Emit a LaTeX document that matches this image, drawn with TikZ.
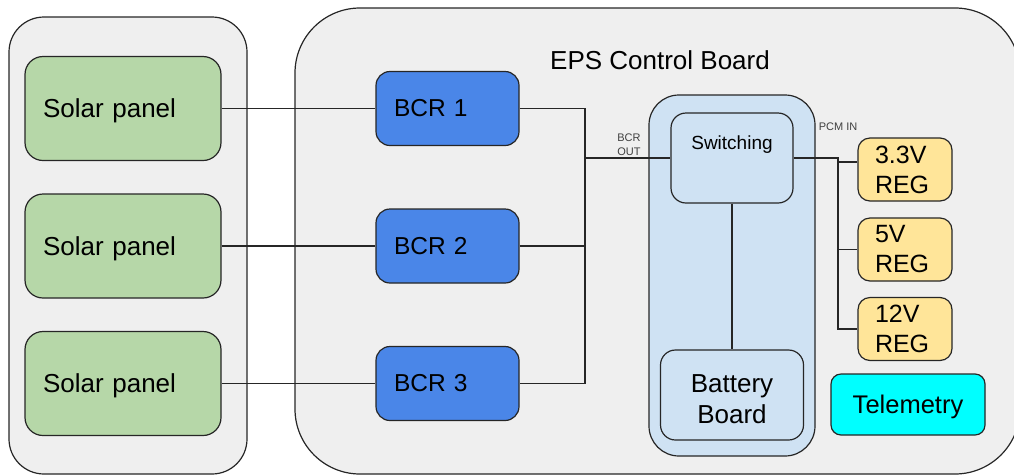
\documentclass[tikz,border=0pt]{standalone}
\usepackage{fontspec}
\setmainfont{Liberation Sans}
\definecolor{boardgray}{HTML}{EFEFEF}
\definecolor{panelgreen}{HTML}{B6D7A8}
\definecolor{bcrblue}{HTML}{4A86E8}
\definecolor{battblue}{HTML}{CFE2F3}
\definecolor{regyellow}{HTML}{FFE599}
\definecolor{telecyan}{HTML}{00FFFF}
\tikzset{
  outline/.style={draw=black!85, line width=1.2pt},
  board/.style={outline, fill=boardgray},
  panel/.style={outline, fill=panelgreen, rounded corners=18pt,
    minimum width=196pt, minimum height=104pt, text width=160pt,
    inner xsep=18pt, align=left, text depth=0pt,
    font=\fontsize{26}{31}\selectfont},
  bcr/.style={outline, fill=bcrblue, rounded corners=14pt,
    minimum width=143pt, minimum height=74pt, text width=107pt,
    inner xsep=18pt, align=left, font=\fontsize{24.5}{29}\selectfont},
  subbox/.style={outline, fill=battblue, rounded corners=15pt},
  reg/.style={outline, fill=regyellow, rounded corners=12pt,
    minimum width=94pt, minimum height=63pt, text width=60pt,
    inner xsep=17pt, inner ysep=0pt, align=left,
    font=\fontsize{25}{30}\selectfont},
  tag/.style={font=\fontsize{11}{14}\selectfont, text=black!75, align=left, inner sep=0pt},
  wire/.style={line width=1.3pt, draw=black!85}
}
\begin{document}
\begin{tikzpicture}[x=1pt, y=-1pt]
  \useasboundingbox (0,0) rectangle (1014,475);
  \node[board, rounded corners=35pt, minimum width=238pt, minimum height=457pt]
    (array) at (128,245.5) {};
  \node[board, rounded corners=65pt, minimum width=725pt, minimum height=466pt]
    (eps) at (657.5,241) {};
  \node[font=\fontsize{26}{31}\selectfont] (epstitle) at (660,60) {EPS Control Board};

  \node[panel] (sp1) at (123,108.5) {Solar panel};
  \node[panel] (sp2) at (123,246) {Solar panel};
  \node[panel] (sp3) at (123,383.5) {Solar panel};

  \node[bcr] (bcr1) at (447.5,108.5) {BCR 1};
  \node[bcr] (bcr2) at (447.5,246) {BCR 2};
  \node[bcr] (bcr3) at (447.5,383.5) {BCR 3};

  \node[subbox, rounded corners=30pt, minimum width=166pt, minimum height=361pt]
    (holder) at (732,275.5) {};
  \node[subbox, minimum width=122pt, minimum height=90pt,
    label={[anchor=center, yshift=-32pt, font=\fontsize{19}{23}\selectfont]north:Switching}]
    (switch) at (732,158) {};
  \node[subbox, minimum width=143pt, minimum height=90pt,
    label={[anchor=center, yshift=-4pt, align=center, font=\fontsize{26}{31}\selectfont]center:Battery\\Board}]
    (batt) at (732,395) {};

  \node[reg] (reg1) at (905,169.5) {3.3V\\REG};
  \node[reg] (reg2) at (905,249.5) {5V\\REG};
  \node[reg] (reg3) at (905,329) {12V\\REG};
  \node[outline, fill=telecyan, rounded corners=10pt, minimum width=154pt, minimum height=61pt,
    text depth=0pt, font=\fontsize{25.5}{30}\selectfont] (telem) at (908,404.5) {Telemetry};

  \node[tag] (bcrout) at (629,145) {BCR\\OUT};
  \node[tag] (pcmin) at (838,127) {PCM IN};

  \coordinate (bus) at (585,108.5);
  \coordinate (tap) at (838,158);
  \coordinate (tap1) at (838,162);

  \draw[wire] (sp1) -- (bcr1);
  \draw[wire] (sp2) -- (bcr2);
  \draw[wire] (sp3) -- (bcr3);
  \draw[wire] (bcr1.east) -- (bus) |- (bcr3.east);
  \draw[wire] (bcr2.east) -- (bcr2.east -| bus);
  \draw[wire] (bus |- switch.west) -- (switch.west);
  \draw[wire] (switch) -- (batt);
  \draw[wire] (switch.east) -- (tap) |- (reg3.west);
  \draw[wire] (tap1) -- (tap1 -| reg1.west);
  \draw[wire] (tap |- reg2.west) -- (reg2.west);
\end{tikzpicture}
\end{document}
